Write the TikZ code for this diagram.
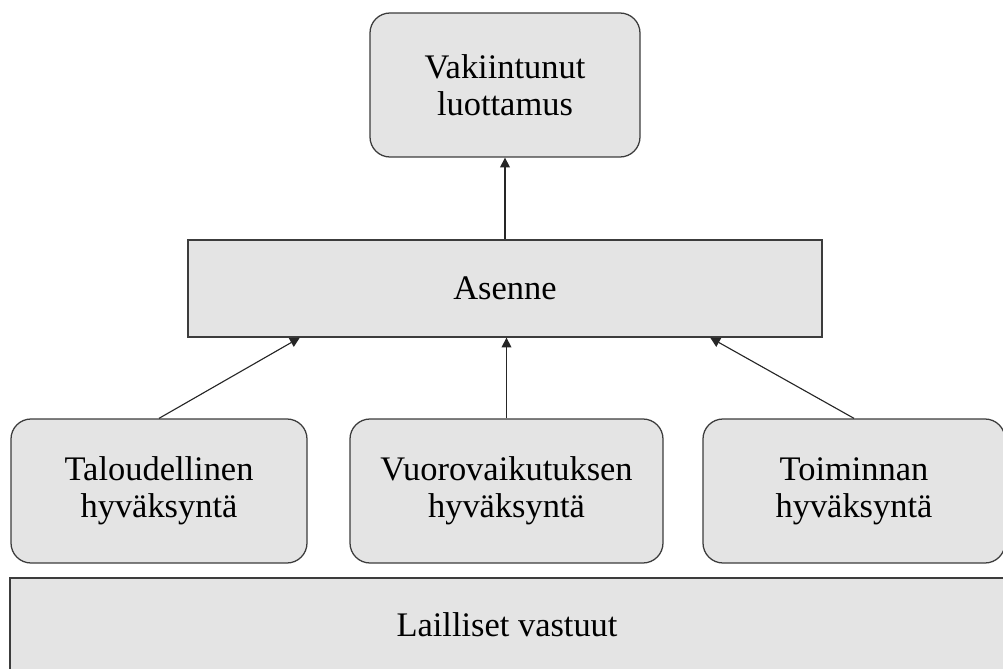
\documentclass[tikz,border=0pt]{standalone}
\usepackage{fontspec}
\setmainfont{Liberation Serif}
\usetikzlibrary{arrows.meta, calc}
\definecolor{BoxFill}{RGB}{228, 228, 228}
\definecolor{BoxLine}{RGB}{60, 60, 60}

\begin{document}
\begin{tikzpicture}[
  every node/.style={font=\fontsize{24.5}{26.3}\selectfont},
  level/.style={draw=BoxLine, fill=BoxFill, line width=0.9pt,
                align=center, inner sep=0pt},
  pill/.style={level, rounded corners=0.5cm, minimum height=3.6cm},
  arr/.style={-{Triangle[length=7pt, width=7pt]}, line width=0.8pt, draw=black!85}
]
  \useasboundingbox (0,0) rectangle (25.075,16.7);

  \node[pill, minimum width=6.75cm] (luot)   at (12.625, 14.575) {Vakiintunut\\luottamus};
  \node[level, minimum width=15.85cm, minimum height=2.425cm]
                                    (asenne) at (12.625, 9.4875) {Asenne};
  \node[pill, minimum width=7.4cm]  (talo)   at (3.975, 4.425)   {Taloudellinen\\hyväksyntä};
  \node[pill, minimum width=7.825cm] (vuoro) at (12.6625, 4.425) {Vuorovaikutuksen\\hyväksyntä};
  \node[pill, minimum width=7.55cm] (toim)   at (21.35, 4.425)   {Toiminnan\\hyväksyntä};
  \node[level, minimum width=24.85cm, minimum height=2.35cm]
                                    (lait)   at (12.675, 1.075)  {Lailliset vastuut};

  \draw[arr] (talo.north)  -- ($(asenne.south west)!0.177!(asenne.south east)$);
  \draw[arr] (vuoro.north) -- (vuoro.north |- asenne.south);
  \draw[arr] (toim.north)  -- ($(asenne.south west)!0.823!(asenne.south east)$);
  \draw[arr] (asenne.north) -- (luot.south);
\end{tikzpicture}
\end{document}
